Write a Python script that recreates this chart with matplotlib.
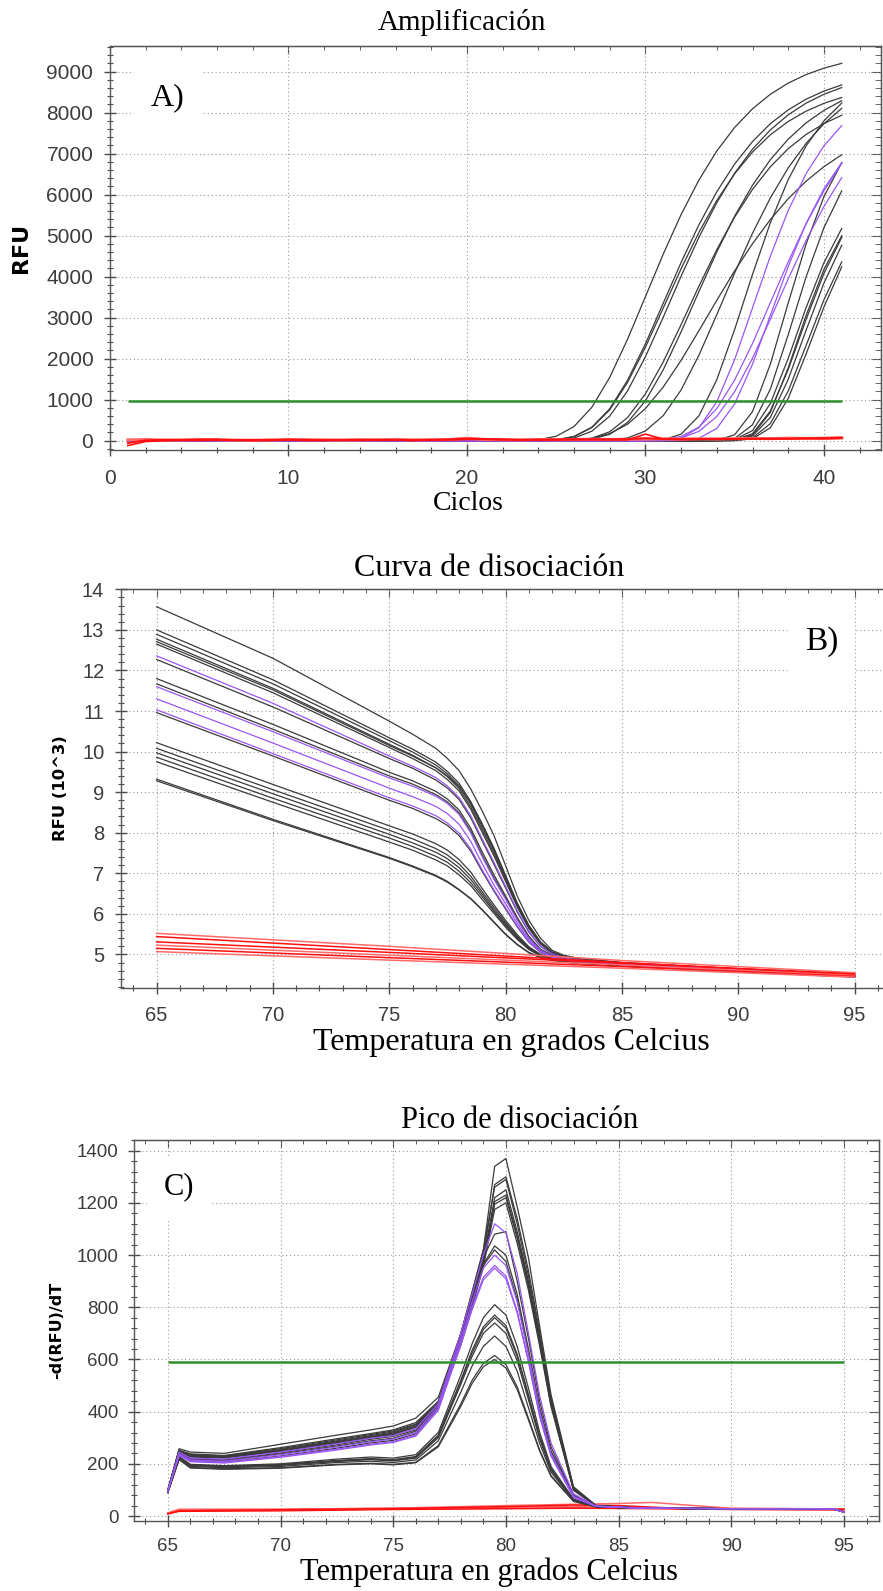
import matplotlib
matplotlib.use("Agg")
import matplotlib.pyplot as plt
from matplotlib.ticker import MultipleLocator

plt.rcParams['font.family'] = ['Liberation Sans', 'DejaVu Sans']

# ---------------- A) Amplificacion ----------------
CICLOS = [1, 21, 22, 23, 24, 25, 26, 27, 28, 29, 30, 31, 32, 33, 34, 35, 36, 37, 38, 39, 40, 41]

AMP_E1 = [0, 0, 0, 3, 23, 108, 345, 816, 1544, 2475, 3513, 4552, 5516, 6358, 7067, 7640, 8096, 8449, 8722, 8929, 9086, 9204]
AMP_E2 = [0, 0, 0, 0, 3, 22, 103, 330, 779, 1475, 2364, 3355, 4347, 5268, 6072, 6749, 7296, 7732, 8068, 8329, 8527, 8677]
AMP_E3 = [0, 0, 0, 0, 1, 11, 64, 232, 600, 1215, 2047, 3014, 4012, 4961, 5806, 6524, 7110, 7580, 7948, 8232, 8448, 8613]
AMP_E4 = [0, 0, 0, 0, 3, 21, 99, 319, 752, 1423, 2281, 3238, 4195, 5083, 5859, 6512, 7040, 7461, 7785, 8037, 8228, 8372]
AMP_M1 = [0, 0, 0, 0, 0, 0, 6, 38, 156, 446, 972, 1731, 2654, 3641, 4604, 5477, 6230, 6854, 7354, 7750, 8056, 8291]
AMP_M2 = [0, 0, 0, 0, 0, 1, 11, 61, 218, 564, 1141, 1923, 2832, 3770, 4661, 5455, 6129, 6680, 7122, 7468, 7734, 7938]
AMP_M3 = [0, 0, 0, 0, 0, 2, 15, 58, 173, 402, 783, 1310, 1961, 2683, 3425, 4143, 4804, 5393, 5901, 6329, 6683, 6975]
AMP_L1 = [0, 0, 0, 0, 0, 0, 0, 1, 12, 66, 237, 612, 1239, 2087, 3074, 4091, 5059, 5921, 6653, 7250, 7730, 8105]
AMP_L2 = [0, 0, 0, 0, 0, 0, 0, 0, 0, 0, 1, 22, 159, 607, 1488, 2713, 4056, 5314, 6368, 7188, 7800, 8235]
AMP_K1 = [0, 0, 0, 0, 0, 0, 0, 0, 0, 0, 0, 0, 0, 0, 11, 144, 709, 1867, 3358, 4794, 5950, 6782]
AMP_K2 = [0, 0, 0, 0, 0, 0, 0, 0, 0, 0, 0, 0, 0, 0, 2, 55, 387, 1261, 2583, 3990, 5193, 6094]
AMP_K3 = [0, 0, 0, 0, 0, 0, 0, 0, 0, 0, 0, 0, 0, 0, 1, 29, 246, 908, 2005, 3242, 4338, 5178]
AMP_K4 = [0, 0, 0, 0, 0, 0, 0, 0, 0, 0, 0, 0, 0, 0, 0, 8, 137, 691, 1773, 3051, 4173, 5000]
AMP_K5 = [0, 0, 0, 0, 0, 0, 0, 0, 0, 0, 0, 0, 0, 0, 0, 16, 171, 724, 1737, 2954, 4077, 4958]
AMP_K6 = [0, 0, 0, 0, 0, 0, 0, 0, 0, 0, 0, 0, 0, 0, 0, 9, 115, 568, 1496, 2691, 3841, 4767]
AMP_K7 = [0, 0, 0, 0, 0, 0, 0, 0, 0, 0, 0, 0, 0, 0, 0, 4, 71, 416, 1211, 2318, 3435, 4361]
AMP_K8 = [0, 0, 0, 0, 0, 0, 0, 0, 0, 0, 0, 0, 0, 0, 0, 2, 45, 316, 1030, 2110, 3258, 4241]
AMP_P1 = [0, 0, 0, 0, 0, 0, 0, 0, 0, 0, 0, 5, 62, 318, 950, 1979, 3238, 4501, 5614, 6512, 7190, 7686]
AMP_P2 = [0, 0, 0, 0, 0, 0, 0, 0, 0, 0, 3, 22, 103, 331, 781, 1480, 2372, 3366, 4362, 5285, 6092, 6771]
AMP_P3 = [0, 0, 0, 0, 0, 0, 0, 0, 0, 0, 1, 12, 64, 228, 591, 1195, 2013, 2964, 3946, 4880, 5710, 6416]
AMP_P4 = [0, 0, 0, 0, 0, 0, 0, 0, 0, 0, 0, 0, 5, 59, 300, 896, 1867, 3054, 4245, 5295, 6142, 6782]

CICLOS_ROJO = list(range(1, 42))
AMP_R1 = [-60, 10, 20, 15, 25, 30, 10, 20, 15, 25, 20, 10, 20, 25, 15, 20, 10, 20, 30, 50, 40,
          30, 20, 25, 30, 35, 30, 30, 40, 60, 40, 35, 40, 45, 40, 50, 45, 50, 55, 50, 60]
AMP_R2 = [-120, -20, 0, 10, 5, 15, 20, 0, 10, 15, 5, 10, 15, 10, 20, 15, 10, 15, 20, 30, 35,
          25, 20, 15, 20, 25, 30, 25, 20, 160, 40, 30, 35, 40, 45, 40, 50, 45, 60, 65, 80]
AMP_R3 = [20, 30, 15, 20, 30, 25, 15, 10, 20, 30, 25, 20, 15, 20, 25, 30, 20, 25, 30, 60, 30,
          25, 20, 30, 25, 30, 35, 30, 35, 40, 45, 40, 45, 40, 50, 55, 50, 60, 55, 60, 70]
UMBRAL_A = 980

# ---------------- B) Curva de disociacion (RFU x 10^3) ----------------
TEMP_B = [65, 70, 75, 76, 77, 77.5, 78, 78.5, 79, 79.5, 80, 80.5, 81, 81.5, 82, 82.5, 83, 85, 90, 95]

CUR_B1 = [13.57, 12.30, 10.75, 10.43, 10.08, 9.83, 9.53, 9.08, 8.53, 7.93, 7.19, 6.44, 5.84, 5.40, 5.10, 4.98, 4.92, 4.80, 4.65, 4.52]
CUR_B2 = [13.00, 11.77, 10.34, 10.06, 9.74, 9.51, 9.22, 8.77, 8.21, 7.62, 6.95, 6.27, 5.72, 5.31, 5.06, 4.95, 4.90, 4.79, 4.64, 4.50]
CUR_B3 = [12.89, 11.67, 10.27, 9.99, 9.67, 9.45, 9.16, 8.71, 8.14, 7.56, 6.90, 6.24, 5.69, 5.29, 5.05, 4.94, 4.89, 4.79, 4.63, 4.50]
CUR_B4 = [12.77, 11.56, 10.18, 9.91, 9.60, 9.38, 9.09, 8.64, 8.07, 7.49, 6.85, 6.20, 5.66, 5.28, 5.04, 4.94, 4.89, 4.78, 4.63, 4.50]
CUR_B5 = [12.71, 11.52, 10.15, 9.89, 9.60, 9.40, 9.14, 8.74, 8.20, 7.58, 6.92, 6.25, 5.70, 5.30, 5.06, 4.95, 4.90, 4.79, 4.63, 4.49]
CUR_B6 = [12.65, 11.45, 10.10, 9.83, 9.53, 9.31, 9.03, 8.58, 8.00, 7.43, 6.80, 6.17, 5.64, 5.26, 5.03, 4.93, 4.88, 4.78, 4.63, 4.49]
CUR_B7 = [12.27, 11.10, 9.83, 9.59, 9.30, 9.10, 8.82, 8.37, 7.79, 7.22, 6.64, 6.05, 5.55, 5.20, 5.00, 4.91, 4.87, 4.77, 4.62, 4.48]
CUR_B8 = [11.80, 10.67, 9.49, 9.28, 9.02, 8.83, 8.56, 8.11, 7.52, 6.96, 6.44, 5.91, 5.45, 5.13, 4.97, 4.89, 4.85, 4.76, 4.60, 4.46]
CUR_B9 = [11.67, 10.55, 9.40, 9.20, 8.94, 8.76, 8.49, 8.04, 7.44, 6.89, 6.39, 5.87, 5.42, 5.11, 4.96, 4.88, 4.84, 4.76, 4.60, 4.46]
CUR_B10 = [10.96, 9.89, 8.80, 8.60, 8.35, 8.18, 7.93, 7.55, 7.04, 6.56, 6.12, 5.68, 5.30, 5.05, 4.92, 4.86, 4.83, 4.75, 4.59, 4.46]
CUR_B11 = [10.22, 9.19, 8.17, 7.97, 7.73, 7.57, 7.34, 7.03, 6.62, 6.22, 5.84, 5.49, 5.19, 5.00, 4.90, 4.84, 4.81, 4.74, 4.59, 4.45]
CUR_B12 = [10.08, 9.06, 8.06, 7.85, 7.61, 7.45, 7.23, 6.93, 6.54, 6.16, 5.79, 5.45, 5.17, 4.99, 4.89, 4.84, 4.81, 4.73, 4.59, 4.45]
CUR_B13 = [9.97, 8.96, 7.96, 7.75, 7.52, 7.36, 7.14, 6.85, 6.48, 6.10, 5.75, 5.42, 5.15, 4.98, 4.89, 4.84, 4.80, 4.73, 4.59, 4.45]
CUR_B14 = [9.86, 8.85, 7.87, 7.66, 7.42, 7.27, 7.05, 6.77, 6.42, 6.06, 5.71, 5.40, 5.14, 4.97, 4.88, 4.83, 4.80, 4.73, 4.58, 4.45]
CUR_B15 = [9.75, 8.75, 7.77, 7.57, 7.33, 7.18, 6.96, 6.70, 6.35, 6.01, 5.67, 5.37, 5.12, 4.96, 4.88, 4.83, 4.80, 4.73, 4.58, 4.45]
CUR_B16 = [9.32, 8.33, 7.39, 7.18, 6.95, 6.80, 6.60, 6.38, 6.10, 5.80, 5.50, 5.25, 5.05, 4.93, 4.86, 4.82, 4.79, 4.72, 4.58, 4.45]
CUR_B17 = [9.28, 8.30, 7.37, 7.16, 6.93, 6.78, 6.59, 6.37, 6.09, 5.79, 5.49, 5.24, 5.04, 4.92, 4.85, 4.81, 4.78, 4.71, 4.57, 4.44]
CUR_P1 = [12.36, 11.19, 9.89, 9.64, 9.36, 9.15, 8.87, 8.42, 7.84, 7.27, 6.68, 6.08, 5.57, 5.21, 5.01, 4.92, 4.87, 4.78, 4.62, 4.48]
CUR_P2 = [11.60, 10.49, 9.35, 9.15, 8.90, 8.72, 8.45, 8.00, 7.40, 6.85, 6.36, 5.85, 5.40, 5.10, 4.95, 4.88, 4.84, 4.76, 4.60, 4.45]
CUR_P3 = [11.30, 10.21, 9.10, 8.89, 8.65, 8.47, 8.21, 7.79, 7.23, 6.71, 6.25, 5.77, 5.35, 5.08, 4.94, 4.87, 4.83, 4.75, 4.60, 4.46]
CUR_P4 = [11.03, 9.95, 8.86, 8.66, 8.42, 8.24, 7.99, 7.60, 7.08, 6.59, 6.15, 5.70, 5.31, 5.06, 4.93, 4.87, 4.83, 4.75, 4.60, 4.46]

TEMP_B_ROJO = [65, 75, 85, 95]
CUR_R1 = [5.52, 5.20, 4.85, 4.55]
CUR_R2 = [5.44, 5.12, 4.80, 4.50]
CUR_R3 = [5.31, 5.05, 4.78, 4.52]
CUR_R4 = [5.23, 4.98, 4.74, 4.48]
CUR_R5 = [5.15, 4.92, 4.70, 4.46]
CUR_R6 = [5.07, 4.86, 4.66, 4.44]

# ---------------- C) Pico de disociacion (-dRFU/dT) ----------------
TEMP_C = [65, 65.5, 66, 67.5, 70, 72.5, 74, 75, 76, 77, 78, 78.5, 79, 79.5, 80, 80.5, 81, 81.5, 82, 83, 84, 86, 90, 94.5, 95]

PIC_B1 = [100, 258, 245, 240, 275, 310, 330, 345, 375, 455, 700, 855, 1020, 1340, 1370, 1185, 990, 725, 465, 112, 40, 30, 28, 28, 15]
PIC_B2 = [100, 252, 238, 232, 262, 296, 316, 330, 358, 440, 690, 840, 995, 1270, 1300, 1140, 940, 705, 450, 108, 40, 30, 28, 28, 15]
PIC_B3 = [100, 250, 236, 230, 258, 292, 312, 326, 352, 435, 700, 860, 1020, 1260, 1290, 1120, 920, 690, 445, 106, 40, 30, 28, 28, 15]
PIC_B4 = [98, 248, 233, 228, 255, 288, 308, 322, 350, 430, 680, 825, 985, 1220, 1250, 1090, 900, 675, 435, 104, 39, 30, 28, 28, 15]
PIC_B5 = [98, 246, 230, 226, 252, 285, 305, 318, 345, 425, 670, 815, 975, 1205, 1230, 1075, 890, 665, 430, 102, 39, 30, 28, 28, 15]
PIC_B6 = [97, 244, 228, 224, 250, 282, 302, 315, 342, 422, 665, 810, 965, 1195, 1220, 1065, 880, 660, 425, 100, 39, 30, 28, 28, 15]
PIC_B7 = [96, 242, 226, 222, 248, 280, 300, 312, 340, 418, 655, 800, 955, 1175, 1200, 1045, 865, 650, 420, 98, 38, 30, 28, 28, 15]
PIC_B8 = [96, 243, 220, 215, 242, 273, 294, 305, 330, 428, 695, 845, 990, 1080, 1090, 900, 680, 440, 265, 80, 38, 30, 28, 28, 15]
PIC_B9 = [95, 240, 218, 212, 238, 268, 288, 298, 325, 422, 685, 830, 965, 1035, 1000, 850, 640, 415, 250, 78, 38, 30, 28, 28, 15]
PIC_B10 = [95, 236, 212, 206, 230, 260, 280, 290, 315, 415, 675, 815, 960, 1020, 975, 830, 625, 405, 245, 76, 38, 30, 28, 28, 15]
PIC_B11 = [92, 228, 198, 193, 200, 218, 226, 222, 235, 320, 540, 660, 760, 810, 770, 650, 490, 320, 190, 65, 36, 30, 28, 28, 15]
PIC_B12 = [92, 226, 196, 190, 197, 213, 220, 216, 228, 310, 520, 635, 725, 770, 730, 620, 465, 305, 182, 63, 36, 30, 28, 28, 15]
PIC_B13 = [91, 225, 195, 189, 196, 211, 218, 213, 225, 305, 515, 625, 715, 760, 720, 612, 458, 300, 180, 62, 36, 30, 28, 28, 15]
PIC_B14 = [91, 224, 194, 188, 194, 209, 216, 211, 222, 300, 505, 612, 700, 740, 700, 595, 446, 295, 176, 61, 35, 30, 28, 28, 15]
PIC_B15 = [90, 222, 190, 185, 190, 205, 210, 205, 215, 288, 475, 575, 650, 690, 650, 555, 415, 278, 168, 60, 35, 30, 28, 28, 15]
PIC_B16 = [90, 218, 186, 181, 185, 198, 202, 198, 206, 270, 430, 520, 585, 615, 580, 495, 375, 252, 155, 57, 35, 30, 28, 28, 15]
PIC_B17 = [89, 216, 184, 179, 183, 196, 200, 196, 204, 265, 420, 508, 572, 600, 567, 485, 368, 248, 152, 56, 35, 30, 28, 28, 15]
PIC_P1 = [96, 245, 222, 218, 245, 277, 298, 308, 335, 430, 700, 850, 1000, 1120, 1085, 930, 700, 460, 280, 85, 38, 30, 28, 28, 15]
PIC_P2 = [95, 238, 215, 210, 235, 265, 285, 295, 320, 420, 680, 820, 950, 1000, 960, 820, 620, 400, 240, 75, 38, 30, 28, 28, 15]
PIC_P3 = [94, 235, 210, 205, 228, 256, 275, 285, 310, 410, 665, 800, 915, 960, 920, 785, 595, 385, 232, 72, 37, 30, 28, 28, 15]
PIC_P4 = [94, 232, 208, 203, 225, 253, 272, 282, 306, 405, 655, 790, 905, 950, 910, 778, 590, 380, 230, 72, 37, 30, 28, 28, 15]

TEMP_C_ROJO = [65, 65.5, 70, 75, 80, 83, 85, 86.5, 88, 90, 95]
PIC_R1 = [10, 22, 22, 27, 30, 32, 30, 30, 28, 26, 25]
PIC_R2 = [8, 18, 20, 25, 28, 30, 29, 28, 27, 25, 24]
PIC_R3 = [12, 26, 26, 30, 34, 36, 34, 32, 30, 28, 26]
PIC_R4 = [10, 24, 25, 30, 40, 45, 48, 52, 42, 30, 27]
PIC_R5 = [9, 20, 24, 28, 36, 42, 40, 34, 28, 26, 25]
UMBRAL_C = 590

NEGRO = '#3a3a3a'
MORADO = '#9a55f5'
ROJO = '#ff1010'
ROSA = '#ff6a6a'
VERDE = '#2f8f2f'
SERIF = ['Liberation Serif', 'DejaVu Serif']
W, H = 883, 1591


def px(x, y):
    return x / W, 1 - y / H


def estilo(ax, xmaj, xmin, ymaj, ymin, lado_derecho=True, tam=14.5, pad=8):
    ax.xaxis.set_major_locator(MultipleLocator(xmaj))
    ax.xaxis.set_minor_locator(MultipleLocator(xmin))
    ax.yaxis.set_major_locator(MultipleLocator(ymaj))
    ax.yaxis.set_minor_locator(MultipleLocator(ymin))
    ax.tick_params(which='both', direction='inout', colors='#4a4a4a',
                   labelcolor='#3c3c3c', labelsize=tam)
    ax.tick_params(axis='x', which='both', pad=pad + 1.5)
    ax.tick_params(axis='y', which='both', pad=pad)
    ax.tick_params(which='major', length=8, width=1)
    ax.tick_params(which='minor', length=5, width=0.8)
    ax.grid(True, which='major', color='#9a9a9a', linestyle=(0, (1, 2.5)), linewidth=0.8)
    ax.set_axisbelow(True)
    for s in ax.spines.values():
        s.set_color('#555555')
        s.set_linewidth(1)
    arriba = ax.secondary_xaxis('top')
    arriba.xaxis.set_major_locator(MultipleLocator(xmaj))
    arriba.xaxis.set_minor_locator(MultipleLocator(xmin))
    arriba.tick_params(which='both', direction='in', labeltop=False, colors='#4a4a4a')
    arriba.tick_params(which='major', length=6)
    arriba.tick_params(which='minor', length=3)
    if lado_derecho:
        der = ax.secondary_yaxis('right')
        der.yaxis.set_major_locator(MultipleLocator(ymaj))
        der.yaxis.set_minor_locator(MultipleLocator(ymin))
        der.tick_params(which='both', direction='in', labelright=False, colors='#4a4a4a')
        der.tick_params(which='major', length=7)
        der.tick_params(which='minor', length=4)
    else:
        ax.spines['right'].set_visible(False)


fig = plt.figure(figsize=(W / 100, H / 100), dpi=100)

# ---- panel A ----
axA = fig.add_axes([110 / W, 1 - 450 / H, 771 / W, 404.3 / H])
for serie in [AMP_E1, AMP_E2, AMP_E3, AMP_E4, AMP_M1, AMP_M2, AMP_M3, AMP_L1, AMP_L2,
              AMP_K1, AMP_K2, AMP_K3, AMP_K4, AMP_K5, AMP_K6, AMP_K7, AMP_K8]:
    axA.plot(CICLOS, serie, color=NEGRO, lw=0.9)
for serie in [AMP_P1, AMP_P2, AMP_P3, AMP_P4]:
    axA.plot(CICLOS, serie, color=MORADO, lw=0.9)
axA.plot(CICLOS_ROJO, AMP_R3, color=ROSA, lw=2.2)
axA.plot(CICLOS_ROJO, AMP_R1, color=ROJO, lw=1.4)
axA.plot(CICLOS_ROJO, AMP_R2, color=ROJO, lw=1.2)
axA.hlines(UMBRAL_A, CICLOS[0], CICLOS[-1], color=VERDE, lw=1.8)
axA.set_xlim(0, 43.2)
axA.set_ylim(-227, 9634)
estilo(axA, 10, 2, 1000, 200, tam=15)
axA.set_ylabel('RFU', fontsize=16, fontweight='bold', family='DejaVu Sans')
axA.yaxis.set_label_coords(-0.1025, 0.5)
axA.text(0.075, 0.871, 'A)', transform=axA.transAxes, fontsize=23, family=SERIF,
         ha='center', va='center', bbox=dict(facecolor='white', edgecolor='none', pad=12))

fig.text(*px(462, 22), 'Amplificación', fontsize=21, family=SERIF, ha='center', va='center')
fig.text(*px(468, 503), 'Ciclos', fontsize=20, family=SERIF, ha='center', va='center')

# ---- panel B ----
axB = fig.add_axes([121 / W, 1 - 987.7 / H, 765 / W, 398.4 / H])
for serie in [CUR_B1, CUR_B2, CUR_B3, CUR_B4, CUR_B5, CUR_B6, CUR_B7, CUR_B8, CUR_B9,
              CUR_B10, CUR_B11, CUR_B12, CUR_B13, CUR_B14, CUR_B15, CUR_B16, CUR_B17]:
    axB.plot(TEMP_B, serie, color=NEGRO, lw=0.9)
for serie in [CUR_P1, CUR_P2, CUR_P3, CUR_P4]:
    axB.plot(TEMP_B, serie, color=MORADO, lw=0.9)
for serie, col in [(CUR_R1, ROSA), (CUR_R2, ROJO), (CUR_R3, ROJO), (CUR_R4, ROSA),
                   (CUR_R5, ROJO), (CUR_R6, ROSA)]:
    axB.plot(TEMP_B_ROJO, serie, color=col, lw=1.1)
axB.set_xlim(63.47, 96.35)
axB.set_ylim(4.18, 14.0)
estilo(axB, 5, 1, 1, 0.2, lado_derecho=False, tam=14.5)
axB.set_ylabel('RFU (10^3)', fontsize=11.8, fontweight='bold', family='DejaVu Sans')
axB.yaxis.set_label_coords(-0.0693, 0.5)
axB.text(0.916, 0.868, 'B)', transform=axB.transAxes, fontsize=24, family=SERIF,
         ha='center', va='center', bbox=dict(facecolor='white', edgecolor='none', pad=12))

fig.text(*px(489, 569), 'Curva de disociación', fontsize=23, family=SERIF, ha='center', va='center')
fig.text(*px(511, 1042), 'Temperatura en grados Celcius', fontsize=23, family=SERIF,
         ha='center', va='center')

# ---- panel C ----
axC = fig.add_axes([134 / W, 1 - 1520.7 / H, 744.5 / W, 380.7 / H])
for serie, col in [(PIC_R1, ROJO), (PIC_R2, ROJO), (PIC_R3, ROSA), (PIC_R4, ROSA), (PIC_R5, ROJO)]:
    axC.plot(TEMP_C_ROJO, serie, color=col, lw=1.1)
for serie in [PIC_B1, PIC_B2, PIC_B3, PIC_B4, PIC_B5, PIC_B6, PIC_B7, PIC_B8, PIC_B9,
              PIC_B10, PIC_B11, PIC_B12, PIC_B13, PIC_B14, PIC_B15, PIC_B16, PIC_B17]:
    axC.plot(TEMP_C, serie, color=NEGRO, lw=0.9)
for serie in [PIC_P1, PIC_P2, PIC_P3, PIC_P4]:
    axC.plot(TEMP_C, serie, color=MORADO, lw=0.9)
axC.hlines(UMBRAL_C, TEMP_C[0], TEMP_C[-1], color=VERDE, lw=1.8)
axC.set_xlim(63.5, 96.53)
axC.set_ylim(-18, 1441)
estilo(axC, 5, 1, 200, 40, tam=13.5, pad=7)
axC.set_ylabel('-d(RFU)/dT', fontsize=11.5, fontweight='bold', family='DejaVu Sans')
axC.yaxis.set_label_coords(-0.094, 0.5)
axC.text(0.061, 0.877, 'C)', transform=axC.transAxes, fontsize=22, family=SERIF,
         ha='center', va='center', bbox=dict(facecolor='white', edgecolor='none', pad=12))

fig.text(*px(520, 1120), 'Pico de disociación', fontsize=22, family=SERIF, ha='center', va='center')
fig.text(*px(489, 1572), 'Temperatura en grados Celcius', fontsize=22, family=SERIF,
         ha='center', va='center')

fig.savefig('out.png', dpi=100)
